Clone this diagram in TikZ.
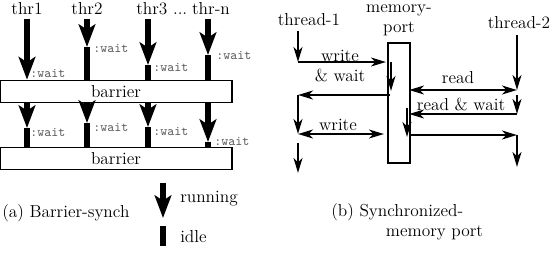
\documentclass[tikz,border=0pt]{standalone}
\usepackage{tikz}
\usetikzlibrary{arrows.meta, positioning}

\tikzstyle{run} = [line width=4pt, -{Stealth[length=17pt, width=12.5pt, inset=4pt]}]
\tikzstyle{idle} = [line width=4pt]
\tikzstyle{msg} = [line width=2pt, -{Stealth[length=11pt, width=6.5pt, inset=3pt]}]
\tikzstyle{msgboth} = [line width=2pt, {Stealth[length=11pt, width=6.5pt, inset=3pt]}-{Stealth[length=11pt, width=6.5pt, inset=3pt]}]
\tikzstyle{lbl} = [font=\fontsize{13}{15}\selectfont, inner sep=0pt]
\tikzstyle{wt} = [font=\fontsize{10}{11}\selectfont\ttfamily, text=black!65, anchor=west, inner sep=0pt]
\tikzstyle{barrierbox} = [rectangle, draw=black, line width=0.8pt, minimum width=174pt, minimum height=17pt, inner sep=0pt, font=\fontsize{13}{15}\selectfont]
\tikzstyle{portbox} = [rectangle, draw=black, line width=0.8pt, minimum width=16.5pt, minimum height=90pt, inner sep=0pt]

\begin{document}
\begin{tikzpicture}[x=0.75pt, y=-0.75pt]
\useasboundingbox (0,0) rectangle (554,255);

%%% (a) barrier synchronisation
\node (t1) [lbl, anchor=base] at (27,14) {thr1};
\node (t2) [lbl, anchor=base] at (87,14) {thr2};
\node (t3) [lbl, anchor=base west] at (136,14) {thr3 ...};
\node (tn) [lbl, anchor=base] at (211,14) {thr-n};

\node (bar1) [barrierbox] at (116,91.5) {barrier};
\node (bar2) [barrierbox] at (116,158.5) {barrier};

\coordinate (s1) at (27,19);
\coordinate (s2) at (87,19);
\coordinate (s3) at (148,19);
\coordinate (s4) at (208,19);
\coordinate (p2) at (87,47);
\coordinate (p3) at (148,65);
\coordinate (p4) at (208,55);

% first phase
\draw[run] (s1) -- (bar1.north -| s1);
\draw[run] (s2) -- (p2);
\draw[idle] (p2) -- (bar1.north -| p2);
\draw[run] (s3) -- (p3);
\draw[idle] (p3) -- (bar1.north -| p3);
\draw[run] (s4) -- (p4);
\draw[idle] (p4) -- (bar1.north -| p4);

\node (wa1) [wt] at (30,73) {:wait};
\node (wa2) [wt] at (93,48) {:wait};
\node (wa3) [wt] at (153,67) {:wait};
\node (wa4) [wt] at (216,56) {:wait};

% second phase
\coordinate (q1) at (27,128);
\coordinate (q2) at (87,123);
\coordinate (q3) at (148,127);
\coordinate (q4) at (208,142);

\draw[run] (bar1.south -| q1) -- (q1);
\draw[idle] (q1) -- (bar2.north -| q1);
\draw[run] (bar1.south -| q2) -- (q2);
\draw[idle] (q2) -- (bar2.north -| q2);
\draw[run] (bar1.south -| q3) -- (q3);
\draw[idle] (q3) -- (bar2.north -| q3);
\draw[run] (bar1.south -| q4) -- (q4);
\draw[idle] (q4) -- (bar2.north -| q4);

\node (wb1) [wt] at (30,132) {:wait};
\node (wb2) [wt] at (93,127) {:wait};
\node (wb3) [wt] at (153,131) {:wait};
\node (wb4) [wt] at (214,141) {:wait};

% legend
\coordinate (r0) at (163,183);
\coordinate (r1) at (163,218);
\coordinate (i0) at (163,226);
\coordinate (i1) at (163,246);
\draw[run] (r0) -- (r1);
\draw[idle] (i0) -- (i1);
\node (running) [lbl, anchor=west] at (180,199) {running};
\node (idle) [lbl, anchor=west] at (180,237) {idle};
\node (capa) [lbl, anchor=west] at (2,213) {(a) Barrier-synch};

%%% (b) synchronised memory port
\node (th1) [lbl, anchor=base] at (309,25) {thread-1};
\node (th2) [lbl, anchor=base] at (519,28) {thread-2};
\node (mem) [lbl, align=center] at (399,20) {memory-\\port};
\node (port) [portbox] at (399,103) {};

\coordinate (u0) at (298,31);
\coordinate (u1) at (298,62);
\coordinate (u2) at (298,95);
\coordinate (u3) at (298,134);
\coordinate (u4) at (298,143);
\coordinate (u5) at (298,173);
\coordinate (m1) at (386,62);
\coordinate (m2) at (391,62);
\coordinate (m3) at (391,91);
\coordinate (m4) at (390,95);
\coordinate (m5) at (384,134);

\coordinate (v0) at (517,35);
\coordinate (v1) at (517,90);
\coordinate (v2) at (517,95);
\coordinate (v3) at (517,114);
\coordinate (v4) at (517,135);
\coordinate (v5) at (517,167);
\coordinate (n1) at (409,90);
\coordinate (n2) at (409,114);
\coordinate (n3) at (407,108);
\coordinate (n4) at (407,137);
\coordinate (n5) at (410,135);

% thread-1 side
\draw[msg] (u0) -- (u1);
\draw[msg] (u1) -- (m1);
\draw[msg] (m2) -- (m3);
\draw[msg] (m4) -- (u2);
\draw[msg] (u2) -- (u3);
\draw[msgboth] (u3) -- (m5);
\draw[msg] (u4) -- (u5);

% thread-2 side
\draw[msg] (v0) -- (v1);
\draw[msgboth] (n1) -- (v1);
\draw[msg] (v2) -- (v3);
\draw[msg] (v3) -- (n2);
\draw[msg] (n3) -- (n4);
\draw[msg] (n5) -- (v4);
\draw[msg] (v4) -- (v5);

\node (wr1) [lbl, align=center] at (340,66) {write\\\& wait};
\node (rd) [lbl] at (458,78) {read};
\node (rw) [lbl] at (461,104) {read \& wait};
\node (wr2) [lbl] at (338,125) {write};

\node (capb) [lbl, align=left, anchor=west] at (331,222) {(b) Synchronized-\\\hspace*{41pt}memory port};

\end{tikzpicture}
\end{document}
